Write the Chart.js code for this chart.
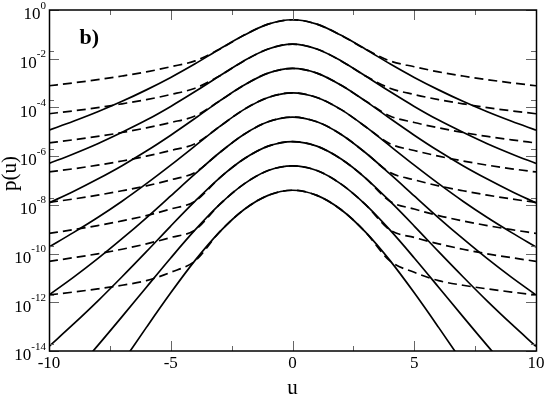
<!DOCTYPE html>
<html>
<head>
<meta charset="utf-8">
<script src="https://cdn.jsdelivr.net/npm/chart.js@4.4.0/dist/chart.umd.min.js"></script>
<style>
  html, body { margin: 0; padding: 0; background: #fff; }
  #wrap { width: 545px; height: 397px; }
</style>
</head>
<body>
<div id="wrap"><canvas id="pdf-graph" width="545" height="397"></canvas></div>
<script>
// u grid (x axis)
const u = [-10, -9, -8, -7, -6, -5, -4, -3, -2, -1, 0, 1, 2, 3, 4, 5, 6, 7, 8, 9, 10];

// solid curves, top to bottom (each one shifted a decade down)
const solid1 = [1.17e-5, 2.69e-5, 6.61e-5, 1.78e-4, 5.25e-4, 1.70e-3, 6.17e-3, 2.45e-2, 9.12e-2, 2.63e-1, 3.98e-1, 2.63e-1, 9.12e-2, 2.45e-2, 6.17e-3, 1.70e-3, 5.25e-4, 1.78e-4, 6.61e-5, 2.69e-5, 1.17e-5];
const solid2 = [5.01e-7, 1.23e-6, 3.24e-6, 9.55e-6, 3.02e-5, 1.10e-4, 4.47e-4, 1.95e-3, 8.13e-3, 2.51e-2, 3.98e-2, 2.51e-2, 8.13e-3, 1.95e-3, 4.47e-4, 1.10e-4, 3.02e-5, 9.55e-6, 3.24e-6, 1.23e-6, 5.01e-7];
const solid3 = [1.20e-8, 3.55e-8, 1.15e-7, 4.07e-7, 1.62e-6, 7.24e-6, 3.55e-5, 1.82e-4, 8.13e-4, 2.57e-3, 3.98e-3, 2.57e-3, 8.13e-4, 1.82e-4, 3.55e-5, 7.24e-6, 1.62e-6, 4.07e-7, 1.15e-7, 3.55e-8, 1.20e-8];
const solid4 = [1.86e-10, 7.24e-10, 3.02e-9, 1.41e-8, 7.41e-8, 4.27e-7, 2.63e-6, 1.62e-5, 8.13e-5, 2.57e-4, 3.98e-4, 2.57e-4, 8.13e-5, 1.62e-5, 2.63e-6, 4.27e-7, 7.41e-8, 1.41e-8, 3.02e-9, 7.24e-10, 1.86e-10];
const solid5 = [2.00e-12, 1.05e-11, 6.17e-11, 4.07e-10, 2.95e-9, 2.34e-8, 1.86e-7, 1.38e-6, 7.76e-6, 2.57e-5, 3.98e-5, 2.57e-5, 7.76e-6, 1.38e-6, 1.86e-7, 2.34e-8, 2.95e-9, 4.07e-10, 6.17e-11, 1.05e-11, 2.00e-12];
const solid6 = [1.55e-14, 1.26e-13, 1.12e-12, 1.12e-11, 1.20e-10, 1.35e-9, 1.41e-8, 1.26e-7, 7.59e-7, 2.57e-6, 3.98e-6, 2.57e-6, 7.59e-7, 1.26e-7, 1.41e-8, 1.35e-9, 1.20e-10, 1.12e-11, 1.12e-12, 1.26e-13, 1.55e-14];
const solid7 = [9.33e-17, 1.17e-15, 1.66e-14, 2.57e-13, 4.17e-12, 6.61e-11, 9.33e-10, 1.02e-8, 7.08e-8, 2.57e-7, 3.98e-7, 2.57e-7, 7.08e-8, 1.02e-8, 9.33e-10, 6.61e-11, 4.17e-12, 2.57e-13, 1.66e-14, 1.17e-15, 9.33e-17];
const solid8 = [1.58e-19, 3.98e-18, 1.12e-16, 3.24e-15, 9.33e-14, 2.45e-12, 5.25e-11, 7.59e-10, 6.31e-9, 2.45e-8, 3.98e-8, 2.45e-8, 6.31e-9, 7.59e-10, 5.25e-11, 2.45e-12, 9.33e-14, 3.24e-15, 1.12e-16, 3.98e-18, 1.58e-19];

// dashed curves (same core, fatter tails)
const dashed1 = [7.76e-4, 1.02e-3, 1.38e-3, 1.95e-3, 2.88e-3, 4.68e-3, 8.13e-3, 2.45e-2, 9.12e-2, 2.63e-1, 3.98e-1, 2.63e-1, 9.12e-2, 2.45e-2, 8.13e-3, 4.68e-3, 2.88e-3, 1.95e-3, 1.38e-3, 1.02e-3, 7.76e-4];
const dashed2 = [5.50e-5, 7.24e-5, 9.77e-5, 1.41e-4, 2.09e-4, 3.39e-4, 6.17e-4, 1.95e-3, 8.13e-3, 2.51e-2, 3.98e-2, 2.51e-2, 8.13e-3, 1.95e-3, 6.17e-4, 3.39e-4, 2.09e-4, 1.41e-4, 9.77e-5, 7.24e-5, 5.50e-5];
const dashed3 = [3.47e-6, 4.68e-6, 6.46e-6, 9.33e-6, 1.45e-5, 2.40e-5, 4.47e-5, 1.82e-4, 8.13e-4, 2.57e-3, 3.98e-3, 2.57e-3, 8.13e-4, 1.82e-4, 4.47e-5, 2.40e-5, 1.45e-5, 9.33e-6, 6.46e-6, 4.68e-6, 3.47e-6];
const dashed4 = [2.24e-7, 3.02e-7, 4.27e-7, 6.31e-7, 1.00e-6, 1.70e-6, 3.24e-6, 1.62e-5, 8.13e-5, 2.57e-4, 3.98e-4, 2.57e-4, 8.13e-5, 1.62e-5, 3.24e-6, 1.70e-6, 1.00e-6, 6.31e-7, 4.27e-7, 3.02e-7, 2.24e-7];
const dashed5 = [1.26e-8, 1.74e-8, 2.51e-8, 3.80e-8, 6.03e-8, 1.07e-7, 2.14e-7, 1.38e-6, 7.76e-6, 2.57e-5, 3.98e-5, 2.57e-5, 7.76e-6, 1.38e-6, 2.14e-7, 1.07e-7, 6.03e-8, 3.80e-8, 2.51e-8, 1.74e-8, 1.26e-8];
const dashed6 = [6.76e-10, 9.55e-10, 1.41e-9, 2.19e-9, 3.63e-9, 6.76e-9, 1.41e-8, 1.26e-7, 7.59e-7, 2.57e-6, 3.98e-6, 2.57e-6, 7.59e-7, 1.26e-7, 1.41e-8, 6.76e-9, 3.63e-9, 2.19e-9, 1.41e-9, 9.55e-10, 6.76e-10];
const dashed7 = [4.79e-11, 6.76e-11, 9.77e-11, 1.51e-10, 2.51e-10, 4.57e-10, 9.33e-10, 1.02e-8, 7.08e-8, 2.57e-7, 3.98e-7, 2.57e-7, 7.08e-8, 1.02e-8, 9.33e-10, 4.57e-10, 2.51e-10, 1.51e-10, 9.77e-11, 6.76e-11, 4.79e-11];
const dashed8 = [2.00e-12, 2.63e-12, 3.55e-12, 5.01e-12, 7.76e-12, 1.70e-11, 5.01e-11, 7.59e-10, 6.31e-9, 2.45e-8, 3.98e-8, 2.45e-8, 6.31e-9, 7.59e-10, 5.01e-11, 1.70e-11, 7.76e-12, 5.01e-12, 3.55e-12, 2.63e-12, 2.00e-12];

// ticks
const xMajor = [-10, -5, 0, 5, 10];
const xLabels = ["-10", "-5", "0", "5", "10"];
const xMinor = [-7.5, -2.5, 2.5, 7.5];
const yMajor = [1e0, 1e-2, 1e-4, 1e-6, 1e-8, 1e-10, 1e-12, 1e-14];
const yExp = ["0", "-2", "-4", "-6", "-8", "-10", "-12", "-14"];
const yMinor = [2e-2, 2e-4, 2e-6, 2e-8, 2e-10, 2e-12, 2e-14];

const serif = '"Liberation Serif", "Times New Roman", serif';

function curve(vals, dashed) {
	return {
		data: u.map((x, i) => ({ x: x, y: vals[i] })),
		borderColor: "#000",
		borderWidth: 1.7,
		borderDash: dashed ? [9, 5] : [],
		pointRadius: 0,
		fill: false,
		cubicInterpolationMode: "monotone"
	};
}

const frame = {
	id: "frame",
	afterDraw(chart) {
		const ctx = chart.ctx;
		const a = chart.chartArea;
		const xs = chart.scales.x;
		const ys = chart.scales.y;
		ctx.save();

		// inward ticks on all four sides
		ctx.strokeStyle = "#666";
		ctx.lineWidth = 1;
		ctx.beginPath();
		const tickX = (v, len) => {
			const px = Math.round(xs.getPixelForValue(v)) + 0.5;
			ctx.moveTo(px, a.bottom); ctx.lineTo(px, a.bottom - len);
			ctx.moveTo(px, a.top); ctx.lineTo(px, a.top + len);
		};
		const tickY = (v, len) => {
			const py = Math.round(ys.getPixelForValue(v)) + 0.5;
			ctx.moveTo(a.left, py); ctx.lineTo(a.left + len, py);
			ctx.moveTo(a.right, py); ctx.lineTo(a.right - len, py);
		};
		xMajor.forEach(v => tickX(v, 10));
		xMinor.forEach(v => tickX(v, 5));
		yMajor.forEach(v => tickY(v, 10));
		yMinor.forEach(v => tickY(v, 5));
		ctx.stroke();

		// frame
		ctx.strokeStyle = "#000";
		ctx.lineWidth = 1.5;
		ctx.strokeRect(a.left + 0.5, a.top, a.right - a.left, a.bottom - a.top);

		// x tick labels
		ctx.fillStyle = "#000";
		ctx.font = "17px " + serif;
		ctx.textAlign = "center";
		ctx.textBaseline = "alphabetic";
		xMajor.forEach((v, i) => {
			ctx.fillText(xLabels[i], xs.getPixelForValue(v), a.bottom + 17);
		});

		// y tick labels: 10 with raised exponent
		yMajor.forEach((v, i) => {
			const py = ys.getPixelForValue(v);
			ctx.font = "11px " + serif;
			ctx.textAlign = "right";
			const ew = ctx.measureText(yExp[i]).width;
			ctx.fillText(yExp[i], a.left - 3, py - 1.5);
			ctx.font = "17px " + serif;
			ctx.fillText("10", a.left - 3 - ew, py + 9.3);
		});

		// axis titles
		ctx.font = "21px " + serif;
		ctx.textAlign = "center";
		ctx.fillText("u", (a.left + a.right) / 2, 394);
		ctx.save();
		ctx.translate(16, (a.top + a.bottom) / 2 - 7);
		ctx.rotate(-Math.PI / 2);
		ctx.fillText("p(u)", 0, 0);
		ctx.restore();

		// panel tag
		ctx.font = "bold 22px " + serif;
		ctx.textAlign = "left";
		ctx.fillText("b)", xs.getPixelForValue(-8.75), ys.getPixelForValue(4.2e-2));
		ctx.restore();
	}
};

const solids = [solid1, solid2, solid3, solid4, solid5, solid6, solid7, solid8];
const dashes = [dashed1, dashed2, dashed3, dashed4, dashed5, dashed6, dashed7, dashed8];

new Chart(document.getElementById("pdf-graph"), {
	type: "line",
	data: {
		datasets: solids.map(s => curve(s, false)).concat(dashes.map(d => curve(d, true)))
	},
	options: {
		responsive: false,
		animation: false,
		devicePixelRatio: 1,
		layout: { padding: { left: 49, right: 9, top: 10, bottom: 46 } },
		plugins: { legend: { display: false }, tooltip: { enabled: false } },
		scales: {
			x: { type: "linear", min: -10, max: 10, display: false },
			y: { type: "logarithmic", min: 1e-14, max: 1, display: false }
		}
	},
	plugins: [frame]
});
</script>
</body>
</html>
